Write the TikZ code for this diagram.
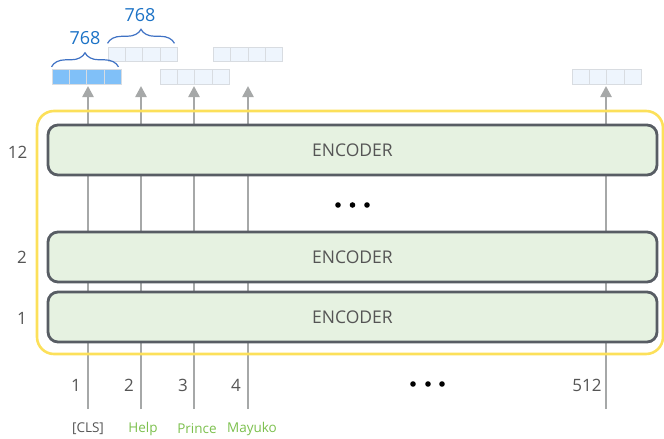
\documentclass[tikz,border=0pt]{standalone}
\usepackage{fontspec}
\setmainfont{Open Sans}
\usetikzlibrary{decorations.pathreplacing,arrows.meta,calc}
\definecolor{encfill}{HTML}{E6F2E1}
\definecolor{encdraw}{HTML}{585D64}
\definecolor{yel}{HTML}{FCE05A}
\definecolor{arr}{HTML}{A6A8A8}
\definecolor{txt}{HTML}{555555}
\definecolor{tokgreen}{HTML}{7CC04E}
\definecolor{bluebrace}{HTML}{3F72C4}
\definecolor{bluetxt}{HTML}{1B72C6}
\definecolor{vecblue}{HTML}{80C0F8}
\definecolor{vecpale}{HTML}{EEF5FD}
\definecolor{vecline}{HTML}{D8DCE1}
\newcommand\tokvec[3]{%
  \node[#3, minimum width=69, minimum height=14.5, inner sep=0pt] (#1) at (#2) {};
  \foreach \k in {1,2,3}
    \draw[vecline, line width=0.9pt] ($(#1.south west)!\k/4!(#1.south east)$) -- ($(#1.north west)!\k/4!(#1.north east)$);
}
\tikzset{
  enc/.style={draw=encdraw, line width=2.8pt, fill=encfill, rounded corners=10pt,
    minimum width=609, minimum height=50, inner sep=0pt, text=txt,
    font=\fontsize{17.5}{20}\selectfont},
  vblue/.style={draw=vecline, line width=0.9pt, fill=vecblue},
  vpale/.style={draw=vecline, line width=0.9pt, fill=vecpale},
  upar/.style={draw=arr, line width=2.5pt, -{Triangle[length=11pt,width=11pt]}},
  num/.style={text=txt, font=\fontsize{17}{20}\selectfont, inner sep=0pt},
  tok/.style={text=tokgreen, font=\fontsize{13.5}{16}\selectfont, inner sep=0pt},
  brc/.style={draw=bluebrace, line width=1.2pt, decorate, decoration={brace, amplitude=14pt}},
  btxt/.style={text=bluetxt, font=\fontsize{18}{21}\selectfont, inner sep=0pt},
  dot/.style={fill=black}
}
\begin{document}
\begin{tikzpicture}[x=1pt,y=-1pt]
\useasboundingbox (0,0) rectangle (664,439);
% arrows
\foreach \n/\x in {a/88, b/141, c/194, d/248, e/606}{
  \coordinate (\n bot) at (\x,409);
  \coordinate (\n top) at (\x,86);
  \draw[upar] (\n bot) -- (\n top);
}
% yellow frame
\draw[yel, line width=2.6pt, rounded corners=17pt] (37,111) rectangle (663,354);
% encoders
\node[enc] (enc12) at (352.5,150) {ENCODER};
\node[enc] (enc2) at (352.5,257) {ENCODER};
\node[enc] (enc1) at (352.5,317) {ENCODER};
% layer labels
\node[num] (l12) at (17.5,152) {12};
\node[num] (l2) at (22,257) {2};
\node[num] (l1) at (22,318) {1};
% dots
\foreach \x in {338,352.5,367} \fill[dot] (\x,205) circle (2.8);
\foreach \x in {413,428,442} \fill[dot] (\x,384) circle (2.8);
% position numbers
\node[num] (p1) at (76,385) {1};
\node[num] (p2) at (129,385) {2};
\node[num] (p3) at (183,385) {3};
\node[num] (p4) at (236,385) {4};
\node[num] (p512) at (587,385) {512};
% tokens
\node[tok, text=txt] (t1) at (88,429) {[CLS]};
\node[tok] (t2) at (143,429) {Help};
\node[tok] (t3) at (197,429) {Prince};
\node[tok] (t4) at (252,429) {Mayuko};
% vectors
\tokvec{v1}{86.5,77}{vblue}
\tokvec{v2}{142.5,54.5}{vpale}
\tokvec{v3}{194.5,77}{vpale}
\tokvec{v4}{248,54.5}{vpale}
\tokvec{v5}{606.5,77}{vpale}
% braces
\draw[brc] ([yshift=2.5pt]v1.north west) -- ([xshift=-3pt,yshift=2.5pt]v1.north east);
\node[btxt] (b1) at (85,38) {768};
\draw[brc] ([yshift=3.5pt]v2.north west) -- ([xshift=-3pt,yshift=3.5pt]v2.north east);
\node[btxt] (b2) at (140,15) {768};
\end{tikzpicture}
\end{document}
